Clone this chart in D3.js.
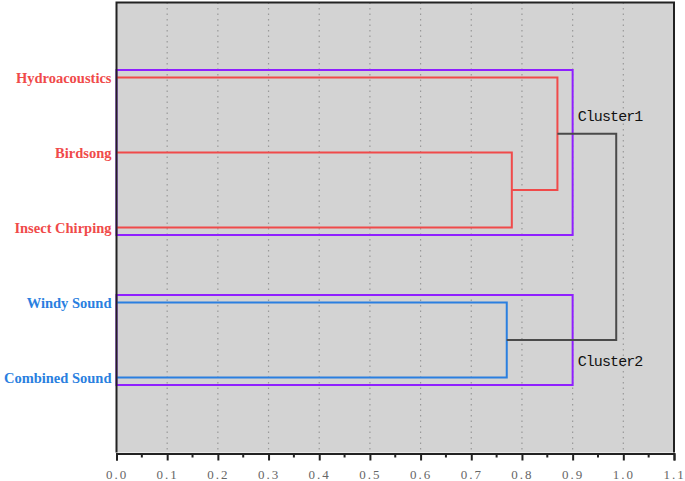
<!DOCTYPE html>
<html>
  <head>
    <meta charset="utf-8" />
    <style>
      body { margin: 0; background: #fff; }
      svg { display: block; }
    </style>
  </head>
  <body>
    <svg width="685" height="481"></svg>
    <script src="https://d3js.org/d3.v7.min.js"></script>
    <script>
      // leaves, top to bottom
      var leaves = ["Hydroacoustics", "Birdsong", "Insect Chirping", "Windy Sound", "Combined Sound"];
      var leafColor = ["#f04a4a", "#f04a4a", "#f04a4a", "#2a7fe0", "#2a7fe0"];
      // merges: child a, child b (leaf names or merge ids), height, colour
      var mergeIds = ["m1", "m2", "m3", "m4"];
      var mergeA = ["Birdsong", "Hydroacoustics", "Windy Sound", "m2"];
      var mergeB = ["Insect Chirping", "m1", "Combined Sound", "m3"];
      var mergeHeight = [0.78, 0.87, 0.77, 0.986];
      var mergeColor = ["#f04a4a", "#f04a4a", "#2a7fe0", "#4a4a4a"];
      // cluster boxes
      var clusterNames = ["Cluster1", "Cluster2"];
      var clusterFirst = ["Hydroacoustics", "Windy Sound"];
      var clusterLast = ["Insect Chirping", "Combined Sound"];
      var clusterCut = [0.9, 0.9];
      var xTicks = [0, 0.1, 0.2, 0.3, 0.4, 0.5, 0.6, 0.7, 0.8, 0.9, 1.0, 1.1];

      var svg = d3.select("svg"),
        mLeft = 116.5,
        mRight = 674,
        mTop = 2.5,
        mBottom = 452.5;

      var x = d3.scaleLinear().domain([0, 1.1]).range([mLeft, mRight]);
      var y = d3.scalePoint().domain(leaves).range([mTop, mBottom]).padding(1);

      svg.append("rect")
        .attr("x", mLeft).attr("y", mTop)
        .attr("width", mRight - mLeft).attr("height", mBottom - mTop)
        .attr("fill", "#d3d3d3");

      // dotted grid
      svg.append("g").selectAll("line")
        .data(xTicks.slice(1, -1))
        .enter().append("line")
        .attr("x1", function(d) { return x(d); })
        .attr("x2", function(d) { return x(d); })
        .attr("y1", mTop).attr("y2", mBottom)
        .attr("stroke", "#999")
        .attr("stroke-width", 1.2)
        .attr("stroke-dasharray", "1.5,4");

      // node positions
      var pos = {};
      leaves.forEach(function(d) { pos[d] = { x: 0, y: y(d) }; });
      mergeIds.forEach(function(id, i) {
        var a = pos[mergeA[i]], b = pos[mergeB[i]];
        pos[id] = { x: mergeHeight[i], y: (a.y + b.y) / 2 };
      });

      // cluster boxes
      var cg = svg.append("g");
      clusterNames.forEach(function(name, i) {
        var y0 = y(clusterFirst[i]) - 7.5, y1 = y(clusterLast[i]) + 7.5;
        cg.append("rect")
          .attr("x", x(0)).attr("y", y0)
          .attr("width", x(clusterCut[i]) - x(0)).attr("height", y1 - y0)
          .attr("fill", "none")
          .attr("stroke", "#8f1fff")
          .attr("stroke-width", 2);
      });

      // links
      var lg = svg.append("g").attr("fill", "none").attr("stroke-width", 2);
      mergeIds.forEach(function(id, i) {
        var a = pos[mergeA[i]], b = pos[mergeB[i]], h = x(mergeHeight[i]);
        lg.append("path")
          .attr("d", "M" + x(a.x) + "," + a.y + "H" + h + "V" + b.y + "H" + x(b.x))
          .attr("stroke", mergeColor[i]);
      });

      // cluster labels
      clusterNames.forEach(function(name, i) {
        var yy = i === 0 ? pos["m2"].y - 13 : pos["m3"].y + 26;
        svg.append("text")
          .attr("x", x(clusterCut[i]) + 5)
          .attr("y", yy)
          .attr("font-family", "Liberation Mono, monospace")
          .attr("font-size", "15px")
          .attr("letter-spacing", "-0.9px")
          .attr("fill", "#111")
          .text(name);
      });

      // leaf labels
      svg.append("g").selectAll("text")
        .data(leaves)
        .enter().append("text")
        .attr("x", mLeft - 5)
        .attr("y", function(d) { return y(d); })
        .attr("dy", "0.35em")
        .attr("text-anchor", "end")
        .attr("font-family", "Liberation Serif, serif")
        .attr("font-weight", "bold")
        .attr("font-size", "14.5px")
        .attr("fill", function(d, i) { return leafColor[i]; })
        .text(function(d) { return d; });

      // frame: left, top, right
      svg.append("path")
        .attr("d", "M" + mLeft + "," + mBottom + "V" + mTop + "H" + mRight + "V" + mBottom)
        .attr("fill", "none")
        .attr("stroke", "#222")
        .attr("stroke-width", 2);

      // x axis
      var axis = svg.append("g")
        .attr("transform", "translate(0," + (mBottom + 1) + ")")
        .call(d3.axisBottom(x).tickValues(xTicks).tickSize(7).tickPadding(9)
          .tickFormat(d3.format(".1f")));
      axis.select(".domain").attr("stroke", "#222").attr("stroke-width", 2);
      axis.selectAll(".tick line").attr("stroke", "#222").attr("stroke-width", 2);
      axis.selectAll("text")
        .attr("font-family", "Liberation Serif, serif")
        .attr("font-size", "13px")
        .attr("letter-spacing", "2px")
        .attr("fill", "#666");
      svg.append("g").selectAll("line")
        .data(d3.range(11).map(function(i) { return xTicks[i] + 0.05; }))
        .enter().append("line")
        .attr("x1", function(d) { return x(d); })
        .attr("x2", function(d) { return x(d); })
        .attr("y1", mBottom + 1).attr("y2", mBottom + 5)
        .attr("stroke", "#222")
        .attr("stroke-width", 2);
    </script>
  </body>
</html>
